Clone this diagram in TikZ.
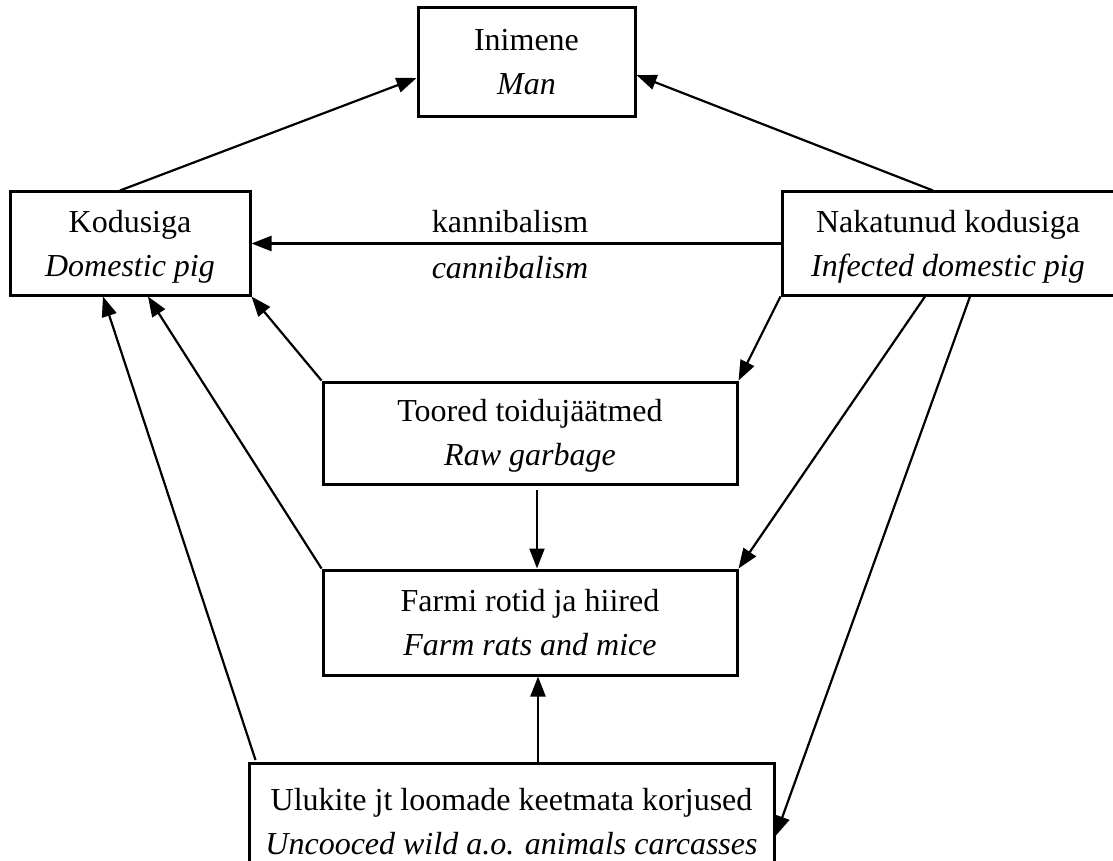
\documentclass[tikz,border=0pt]{standalone}
\usepackage{fontspec}
\setmainfont{Liberation Serif}
\usetikzlibrary{arrows.meta}
\newcommand{\topstr}{\rule{0pt}{30pt}}
\newcommand{\botstr}{\rule[-9pt]{0pt}{9pt}}
\begin{document}
\begin{tikzpicture}[x=1pt,y=-1pt,
  box/.style={draw, line width=3pt, rectangle, inner sep=0pt, align=center, font=\fontsize{32}{44}\selectfont},
  txt/.style={inner sep=0pt, align=center, font=\fontsize{32}{44}\selectfont},
  arr/.style={line width=2.2pt, -{Triangle[length=20pt,width=15pt]}}]
\useasboundingbox (0,0) rectangle (1113,861);
\clip (0,0) rectangle (1113,861);
\node[box, minimum width=217pt, minimum height=109pt] (man) at (526.5,62.5) {\topstr Inimene\\\textit{Man}\botstr};
\node[box, minimum width=240pt, minimum height=103pt] (kod) at (130,243.5) {\topstr Kodusiga\\\textit{Domestic pig}\botstr};
\node[box, minimum width=332pt, minimum height=103pt] (nak) at (948,243.5) {\topstr Nakatunud kodusiga\\\textit{Infected domestic pig}\botstr};
\node[box, minimum width=414pt, minimum height=102pt] (too) at (530,433) {\topstr Toored toidujäätmed\\\textit{Raw garbage}\botstr};
\node[box, minimum width=414pt, minimum height=105pt] (far) at (530,622.5) {\topstr Farmi rotid ja hiired\\\textit{Farm rats and mice}\botstr};
\node[box, minimum width=525pt, minimum height=140pt, anchor=north] (ulu) at (511.5,762) {};
\node[txt] (ulut) at (511.5,822) {Ulukite jt loomade keetmata korjused\\\textit{Uncooced wild a.o. animals carcasses}};

\draw[arr] ([xshift=-10pt]kod.north) -- ([yshift=-15.5pt]man.west);
\draw[arr] ([xshift=-15pt]nak.north) -- ([yshift=-12.5pt]man.east);
\draw[arr] (nak.west) -- (kod.east)
  node[txt, midway, xshift=-6pt, yshift=22pt] (lk) {kannibalism}
  node[txt, midway, xshift=-6pt, yshift=-24pt] (lc) {\textit{cannibalism}};
\draw[arr] (too.north west) -- (kod.south east);
\draw[arr] (far.north west) -- ([xshift=18pt]kod.south);
\draw[arr] ([xshift=8pt,yshift=2pt]ulu.north west) -- ([xshift=-27pt]kod.south);
\draw[arr] (nak.south west) -- (too.north east);
\draw[arr] ([xshift=-23pt]nak.south) -- (far.north east);
\draw[arr] ([xshift=22pt]nak.south) -- ([yshift=-74pt]ulu.north east);
\draw[arr, shorten <=4pt] ([xshift=7pt]too.south) -- ([xshift=7pt]far.north);
\draw[arr] ([xshift=8pt]far.south |- ulu.north) -- ([xshift=8pt]far.south);
\end{tikzpicture}
\end{document}
